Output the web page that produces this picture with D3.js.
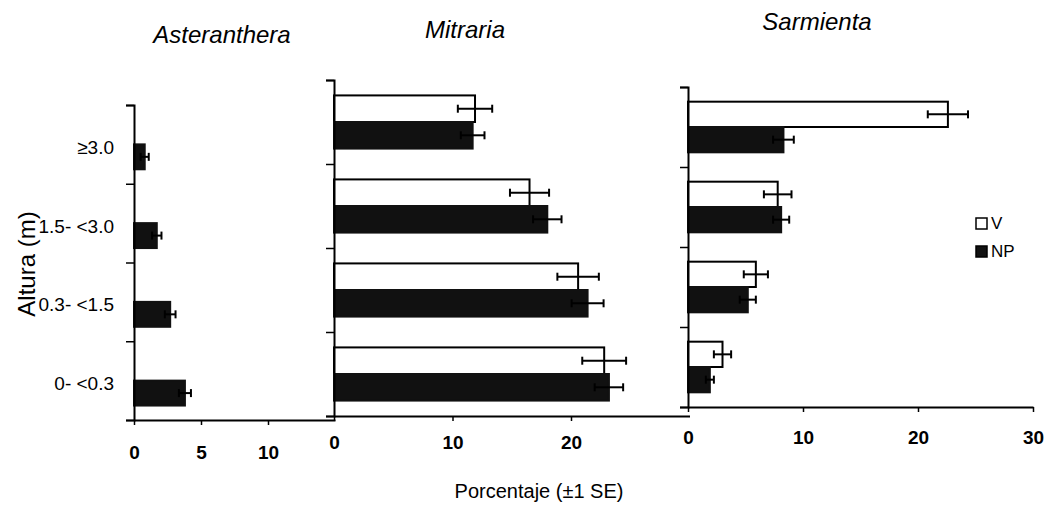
<!DOCTYPE html>
<html>
<head>
<meta charset="utf-8">
<script src="https://cdn.jsdelivr.net/npm/d3@7"></script>
<style>
  body { margin: 0; background: #fff; }
  svg { display: block; }
  text { font-family: "Liberation Sans", Arial, sans-serif; fill: #000; }
</style>
</head>
<body>
<svg id="chart" width="1050" height="514"></svg>
<script>
// Height classes (m), top to bottom
const categories = ["≥3.0", "1.5- <3.0", "0.3- <1.5", "0- <0.3"];
const seriesKeys = ["V", "NP"];

// Percentages (mean) and standard errors per genus
const asterantheraV = [0, 0, 0, 0];
const asterantheraVse = [0, 0, 0, 0];
const asterantheraNP = [0.8, 1.7, 2.7, 3.8];
const asterantheraNPse = [0.3, 0.35, 0.4, 0.45];

const mitrariaV = [11.9, 16.5, 20.6, 22.8];
const mitrariaVse = [1.45, 1.65, 1.75, 1.85];
const mitrariaNP = [11.7, 18.0, 21.4, 23.2];
const mitrariaNPse = [1.0, 1.2, 1.35, 1.2];

const sarmientaV = [22.6, 7.8, 5.9, 3.0];
const sarmientaVse = [1.75, 1.2, 1.05, 0.75];
const sarmientaNP = [8.3, 8.1, 5.2, 1.9];
const sarmientaNPse = [0.9, 0.7, 0.7, 0.35];

// Axis tick values
const asterantheraTicks = [0, 5, 10];
const mitrariaTicks = [0, 10, 20];
const sarmientaTicks = [0, 10, 20, 30];

const svg = d3.select("#chart");

const panels = [
  { title: "Asteranthera", V: asterantheraV, Vse: asterantheraVse, NP: asterantheraNP, NPse: asterantheraNPse,
    ticks: asterantheraTicks, max: 15, x0: 134, x1: 335, top: 105, bottom: 420, pad: 21,
    titleX: 222, titleY: 43, showLabels: true },
  { title: "Mitraria", V: mitrariaV, Vse: mitrariaVse, NP: mitrariaNP, NPse: mitrariaNPse,
    ticks: mitrariaTicks, max: 30, x0: 334, x1: 689.5, top: 80, bottom: 416, pad: 15,
    titleX: 465, titleY: 38, showLabels: false },
  { title: "Sarmienta", V: sarmientaV, Vse: sarmientaVse, NP: sarmientaNP, NPse: sarmientaNPse,
    ticks: sarmientaTicks, max: 30, x0: 688, x1: 1033, top: 87, bottom: 407, pad: 19,
    titleX: 817, titleY: 30, showLabels: false }
];

panels.forEach(p => {
  const x = d3.scaleLinear().domain([0, p.max]).range([p.x0, p.x1]);
  const y = d3.scaleBand().domain(categories).range([p.top, p.bottom]).padding(0);
  const ySub = d3.scaleBand().domain(seriesKeys).range([0, y.bandwidth()])
    .paddingInner(0).paddingOuter(0.58);
  const yIdx = d3.scaleLinear().domain([0, categories.length]).range([p.top, p.bottom]);

  const rows = [];
  seriesKeys.forEach(k => {
    categories.forEach((c, i) => {
      rows.push({ cat: c, key: k, value: p[k][i], se: p[k + "se"][i] });
    });
  });
  const shown = rows.filter(d => d.value > 0);

  const g = svg.append("g");

  // bars
  g.selectAll("rect.bar").data(shown).join("rect")
    .attr("class", "bar")
    .attr("x", x(0))
    .attr("y", d => y(d.cat) + ySub(d.key))
    .attr("width", d => x(d.value) - x(0))
    .attr("height", ySub.bandwidth())
    .attr("fill", d => d.key === "V" ? "#fff" : "#111")
    .attr("stroke", d => d.key === "V" ? "#000" : "#111")
    .attr("stroke-width", 2);

  // error bars (±1 SE)
  const eb = g.selectAll("g.err").data(shown).join("g").attr("class", "err")
    .attr("stroke", "#000").attr("stroke-width", 2);
  const cy = d => y(d.cat) + ySub(d.key) + ySub.bandwidth() / 2;
  eb.append("line")
    .attr("x1", d => x(d.value - d.se)).attr("x2", d => x(d.value + d.se))
    .attr("y1", cy).attr("y2", cy);
  eb.append("line")
    .attr("x1", d => x(d.value - d.se)).attr("x2", d => x(d.value - d.se))
    .attr("y1", d => cy(d) - 4).attr("y2", d => cy(d) + 4);
  eb.append("line")
    .attr("x1", d => x(d.value + d.se)).attr("x2", d => x(d.value + d.se))
    .attr("y1", d => cy(d) - 4).attr("y2", d => cy(d) + 4);

  // x axis
  const xa = g.append("g")
    .attr("transform", `translate(0,${p.bottom})`)
    .call(d3.axisBottom(x).tickValues(p.ticks).tickSize(5).tickSizeOuter(0).tickPadding(p.pad));
  xa.select(".domain").attr("stroke-width", 2);
  xa.selectAll(".tick line").attr("stroke-width", 1.5);
  xa.selectAll("text")
    .style("font-family", "'Liberation Sans Narrow', 'Arial Narrow', 'Liberation Sans', Arial, sans-serif")
    .style("font-weight", "bold").style("font-size", "19px");

  // y axis with ticks at class boundaries
  const ya = g.append("g")
    .attr("transform", `translate(${x(0)},0)`)
    .call(d3.axisLeft(yIdx).tickValues(d3.range(0, categories.length + 1))
      .tickSize(8).tickSizeOuter(8).tickFormat(""));
  ya.select(".domain").attr("stroke-width", 2);
  ya.selectAll(".tick line").attr("stroke-width", 1.5);

  if (p.showLabels) {
    const la = g.append("g")
      .attr("transform", `translate(${x(0)},0)`)
      .call(d3.axisLeft(y).tickSize(0).tickPadding(20));
    la.select(".domain").remove();
    la.selectAll("text").attr("dy", "0.5em").style("font-size", "19px");
  }

  // genus title
  svg.append("text")
    .attr("x", p.titleX).attr("y", p.titleY)
    .attr("text-anchor", "middle")
    .style("font-style", "italic").style("font-size", "24px")
    .text(p.title);
});

// axis titles
svg.append("text")
  .attr("transform", "translate(35,264) rotate(-90)")
  .attr("text-anchor", "middle")
  .style("font-size", "24px")
  .text("Altura (m)");

svg.append("text")
  .attr("x", 539).attr("y", 498)
  .attr("text-anchor", "middle")
  .style("font-size", "20px")
  .text("Porcentaje (±1 SE)");

// legend
const legendItems = [
  { key: "V", fill: "#fff", y: 218 },
  { key: "NP", fill: "#111", y: 246 }
];
const lg = svg.append("g").attr("transform", "translate(976,0)");
lg.selectAll("rect").data(legendItems).join("rect")
  .attr("x", 0).attr("y", d => d.y)
  .attr("width", 11).attr("height", 11)
  .attr("fill", d => d.fill)
  .attr("stroke", "#000").attr("stroke-width", 1.5);
lg.selectAll("text").data(legendItems).join("text")
  .attr("x", 15).attr("y", d => d.y + 11)
  .style("font-family", "'Liberation Sans Narrow', 'Arial Narrow', 'Liberation Sans', Arial, sans-serif")
  .style("font-size", "17px")
  .text(d => d.key);
</script>
</body>
</html>
